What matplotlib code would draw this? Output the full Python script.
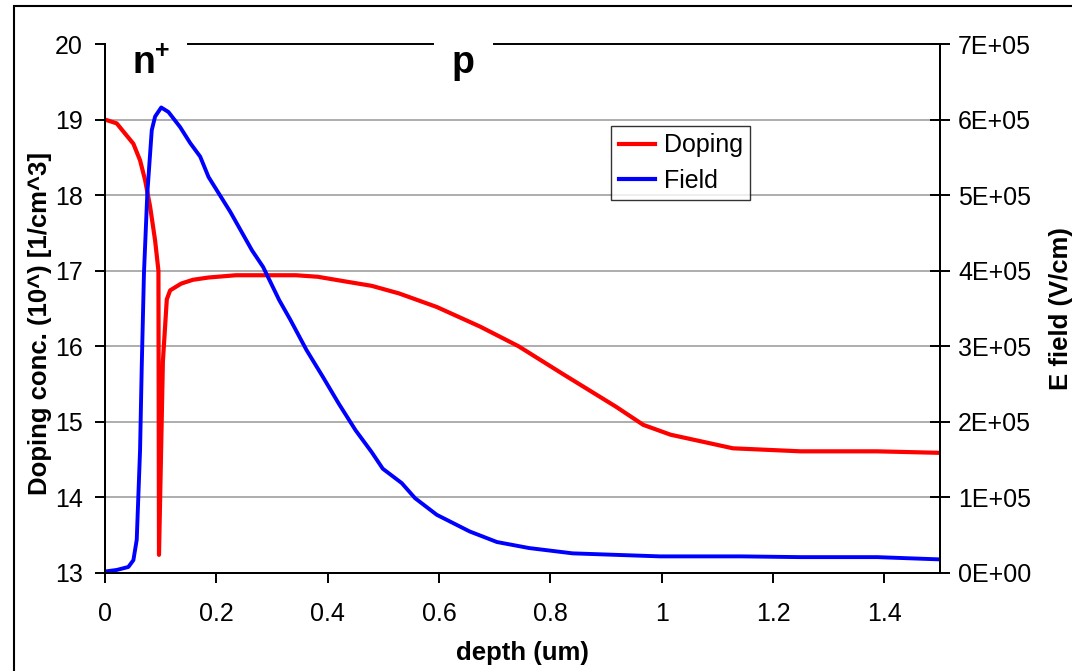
import matplotlib
matplotlib.use("Agg")
import matplotlib.pyplot as plt
from matplotlib.ticker import FuncFormatter
from matplotlib.lines import Line2D
from matplotlib.patches import Rectangle

plt.rcParams['font.family'] = ['Liberation Sans', 'DejaVu Sans']

# doping profile, log10 of concentration
dop_x = [0, 0.021, 0.051, 0.063, 0.072, 0.081, 0.090, 0.096, 0.097, 0.104,
         0.111, 0.117, 0.137, 0.158, 0.186, 0.235, 0.343, 0.382, 0.430, 0.479,
         0.528, 0.596, 0.674, 0.743, 0.821, 0.918, 0.967, 1.016, 1.128, 1.25,
         1.387, 1.5]
dop_y = [19.0, 18.95, 18.68, 18.46, 18.2, 17.85, 17.4, 17.0, 13.24, 15.8,
         16.62, 16.74, 16.83, 16.88, 16.91, 16.94, 16.94, 16.92, 16.86, 16.80,
         16.70, 16.52, 16.26, 16.00, 15.64, 15.20, 14.96, 14.83, 14.65, 14.61,
         14.61, 14.59]

# electric field, V/cm
fld_x = [0, 0.021, 0.042, 0.051, 0.057, 0.063, 0.066, 0.070, 0.076, 0.084,
         0.090, 0.101, 0.114, 0.135, 0.153, 0.171, 0.186, 0.225, 0.264, 0.284,
         0.313, 0.333, 0.362, 0.391, 0.420, 0.450, 0.479, 0.499, 0.533, 0.557,
         0.596, 0.655, 0.704, 0.762, 0.840, 0.918, 0.997, 1.143, 1.25, 1.387, 1.5]
fld_y = [v * 1e5 for v in
         [0.02, 0.04, 0.08, 0.17, 0.44, 1.63, 2.73, 3.97, 5.02, 5.86,
          6.04, 6.16, 6.10, 5.90, 5.69, 5.51, 5.24, 4.78, 4.27, 4.05,
          3.61, 3.35, 2.95, 2.60, 2.24, 1.89, 1.60, 1.38, 1.19, 0.99,
          0.77, 0.55, 0.41, 0.33, 0.26, 0.24, 0.22, 0.22, 0.21, 0.21, 0.18]]

x_ticks = [0, 0.2, 0.4, 0.6, 0.8, 1.0, 1.2, 1.4]
x_labels = ['0', '0.2', '0.4', '0.6', '0.8', '1', '1.2', '1.4']

fig = plt.figure(figsize=(10.72, 6.71), dpi=100)
ax = fig.add_axes([105/1072, 98/671, 835/1072, 529/671])
ax2 = ax.twinx()

# outer frame (only left and top edges visible in the picture)
fig.patches.append(Rectangle((14/1072, -0.2), 1.2, 1.2 - 6/671, transform=fig.transFigure,
                             fill=False, edgecolor='black', linewidth=1.5))

ax.plot(dop_x, dop_y, color='#ff0000', lw=3, solid_joinstyle='round')
ax2.plot(fld_x, fld_y, color='#0000ff', lw=2.8, solid_joinstyle='round')

ax.set_xlim(0, 1.5)
ax.set_ylim(13, 20)
ax2.set_ylim(0, 7e5)
ax.set_xticks(x_ticks)
ax.set_xticklabels(x_labels)
ax.set_yticks(range(13, 21))
ax2.set_yticks([i * 1e5 for i in range(8)])
ax2.yaxis.set_major_formatter(FuncFormatter(lambda v, p: format(v, '.0E')))

ax.yaxis.grid(True, color='#a0a0a0', lw=1.2)
ax.get_ygridlines()[-1].set_visible(False)
ax.get_ygridlines()[0].set_visible(False)

for a in (ax, ax2):
    a.spines['top'].set_visible(False)
    for s in ('left', 'right', 'bottom'):
        a.spines[s].set_linewidth(1.4)
ax.tick_params(axis='x', labelsize=18, width=1.4, length=7, direction='out', pad=14)
ax.tick_params(axis='y', labelsize=18, width=1.4, length=7, direction='out', pad=9)
ax2.tick_params(axis='y', labelsize=18, width=1.4, length=14, direction='inout', pad=6)

ax.set_xlabel('depth (um)', fontsize=18.5, fontweight='bold', labelpad=11)
ax.set_ylabel('Doping conc. (10^) [1/cm^3]', fontsize=18.5, fontweight='bold', labelpad=2)
ax.yaxis.label.set_y(0.472)
ax2.set_ylabel('E field (V/cm)', fontsize=18.5, fontweight='bold', labelpad=13)

# region labels along the top edge
ax.plot([0.149, 0.589], [20, 20], color='black', lw=1.4, clip_on=False)
ax.plot([0.699, 1.5], [20, 20], color='black', lw=1.4, clip_on=False)
ax.text(0.049, 19.62, 'n', fontsize=27, fontweight='bold', ha='left', va='baseline')
ax.text(0.089, 19.91, '+', fontsize=18, fontweight='bold', ha='left', va='center')
ax.text(0.643, 19.62, 'p', fontsize=27, fontweight='bold', ha='center', va='baseline')

handles = [Line2D([], [], color='#ff0000', lw=3), Line2D([], [], color='#0000ff', lw=3)]
leg = ax2.legend(handles, ['Doping', 'Field'], loc='upper left', bbox_to_anchor=(0.606, 0.845),
                 fontsize=18, frameon=True, fancybox=False, edgecolor='black',
                 handlelength=1.45, handletextpad=0.35, borderpad=0.3, labelspacing=0.45,
                 borderaxespad=0)
leg.get_frame().set_linewidth(1.0)

fig.savefig('out.png', dpi=100)
